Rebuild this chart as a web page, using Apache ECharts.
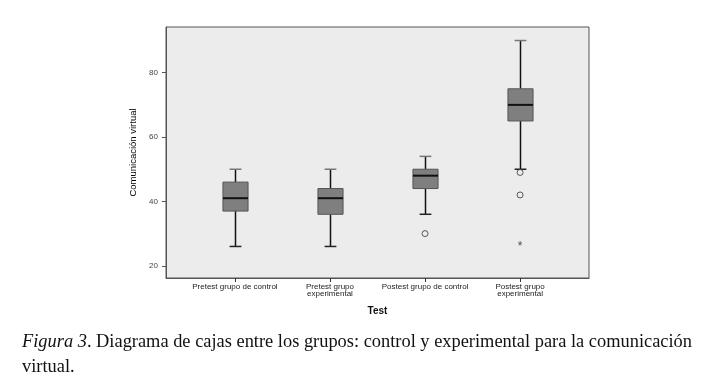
<!DOCTYPE html>
<html>
<head>
<meta charset="utf-8">
<script src="https://cdn.jsdelivr.net/npm/echarts@6/dist/echarts.min.js"></script>
<style>
  html, body { margin: 0; padding: 0; background: #fff; }
  #chart { width: 708px; height: 388px; }
</style>
</head>
<body>
<div id="chart"></div>
<script>
// datos del diagrama de cajas
const categories = ['Pretest grupo de control', 'Pretest grupo\nexperimental', 'Postest grupo de control', 'Postest grupo\nexperimental']
const whiskerLow = [26, 26, 36, 50]
const q1 = [37, 36, 44, 65]
const median = [41, 41, 48, 70]
const q3 = [46, 44, 50, 75]
const whiskerHigh = [50, 50, 54, 90]
const outliers = [[2, 30], [3, 49], [3, 42]]
const extremes = [[3, 27]]
const yTicks = [20, 40, 60, 80]
const xTicks = [0, 1, 2, 3]

const chart = echarts.init(document.getElementById('chart'))

const boxData = categories.map((c, i) => [i, whiskerLow[i], q1[i], median[i], q3[i], whiskerHigh[i]])

const renderBox = (params, api) => {
  const i = api.value(0)
  const x = Math.round(api.coord([i, 0])[0]) + 0.5
  const unit = api.size([1, 0])[0]
  const hb = unit * 0.132
  const hc = unit * 0.062
  const y = (k) => api.coord([i, api.value(k)])[1]
  const lo = y(1), b1 = y(2), md = y(3), b3 = y(4), hi = y(5)
  const line = (x1, y1, x2, y2, w, c) => ({
    type: 'line',
    shape: { x1, y1, x2, y2 },
    style: { stroke: c, lineWidth: w }
  })
  return {
    type: 'group',
    children: [
      line(x, lo, x, b1, 1.5, '#111'),
      line(x, b3, x, hi, 1.5, '#111'),
      line(x - hc, lo, x + hc, lo, 1.5, '#222'),
      line(x - hc, hi, x + hc, hi, 1.5, '#777'),
      {
        type: 'rect',
        shape: { x: x - hb, y: b3, width: hb * 2, height: b1 - b3 },
        style: { fill: '#7f7f7f', stroke: '#555', lineWidth: 1 }
      },
      line(x - hb, md, x + hb, md, 2, '#111')
    ]
  }
}

chart.setOption({
  animation: false,
  grid: {
    left: 166, right: 119, top: 27, bottom: 110,
    show: true,
    backgroundColor: '#ececec',
    borderColor: '#555',
    borderWidth: 1
  },
  xAxis: {
    type: 'value',
    min: -0.725,
    max: 3.725,
    name: 'Test',
    nameLocation: 'middle',
    nameGap: 28,
    nameTextStyle: { fontFamily: 'Liberation Sans', fontWeight: 'bold', fontSize: 10, color: '#111' },
    splitLine: { show: false },
    axisLine: { show: true, onZero: false, lineStyle: { color: '#555' } },
    axisTick: { show: true, length: 4, customValues: xTicks, lineStyle: { color: '#333' } },
    axisLabel: {
      customValues: xTicks,
      margin: 5,
      fontFamily: 'Liberation Sans',
      fontSize: 8,
      lineHeight: 7,
      color: '#222',
      formatter: (v) => categories[Math.round(v)] || ''
    }
  },
  yAxis: {
    type: 'value',
    min: 16.2,
    max: 94.2,
    name: 'Comunicación virtual',
    nameLocation: 'middle',
    nameGap: 27,
    nameTextStyle: { fontFamily: 'Liberation Sans', fontSize: 9.5, color: '#000' },
    splitLine: { show: false },
    axisLine: { show: true, onZero: false, lineStyle: { color: '#555' } },
    axisTick: { show: true, length: 4, customValues: yTicks, lineStyle: { color: '#555' } },
    axisLabel: {
      customValues: yTicks,
      margin: 8,
      fontFamily: 'Liberation Sans',
      fontSize: 8,
      color: '#444'
    }
  },
  series: [
    {
      type: 'custom',
      renderItem: renderBox,
      encode: { x: 0, y: [1, 2, 3, 4, 5] },
      data: boxData,
      z: 3
    },
    {
      type: 'scatter',
      symbol: 'circle',
      symbolSize: 6,
      itemStyle: { color: '#ececec', borderColor: '#333', borderWidth: 1 },
      data: outliers,
      z: 4
    },
    {
      type: 'scatter',
      symbolSize: 0,
      label: {
        show: true,
        position: 'inside',
        formatter: '*',
        fontFamily: 'Liberation Sans',
        fontSize: 12,
        color: '#222',
        offset: [0, 3]
      },
      data: extremes,
      z: 4
    }
  ],
  graphic: [
    {
      type: 'text',
      left: 22,
      top: 333,
      style: {
        text: '{i|Figura 3}. Diagrama de cajas entre los grupos: control y experimental para la comunicación',
        font: '18.4px "Liberation Serif"',
        fill: '#111',
        rich: {
          i: { fontStyle: 'italic', fontFamily: 'Liberation Serif', fontSize: 18.4, fill: '#111' }
        }
      }
    },
    {
      type: 'text',
      left: 22,
      top: 358,
      style: {
        text: 'virtual.',
        font: '18.4px "Liberation Serif"',
        fill: '#111'
      }
    }
  ]
})
</script>
</body>
</html>
